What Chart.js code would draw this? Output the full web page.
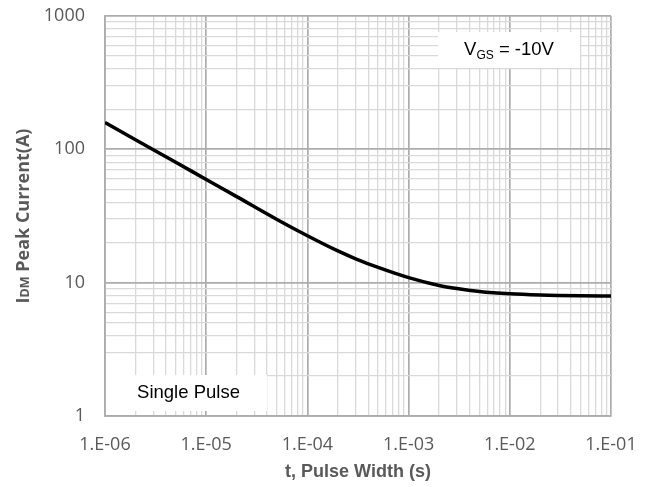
<!DOCTYPE html>
<html>
<head>
<meta charset="utf-8">
<script src="https://cdn.jsdelivr.net/npm/chart.js@4/dist/chart.umd.min.js"></script>
<style>
  html, body { margin: 0; padding: 0; background: #fff; }
  canvas { display: block; }
</style>
</head>
<body>
<canvas id="idmChart" width="651" height="487"></canvas>
<script>
/* Peak drain current vs pulse width, single pulse */
const pulseWidth = [1e-6, 2e-6, 5e-6, 1e-5, 2e-5, 5e-5, 1e-4, 2e-4, 3e-4, 5e-4, 1e-3, 2e-3, 3e-3, 5e-3, 1e-2, 2e-2, 5e-2, 1e-1];
const peakCurrent = [159, 118, 80, 59.4, 44.2, 29.8, 22.5, 17.3, 15.1, 13.0, 10.9, 9.52, 9.03, 8.59, 8.25, 8.08, 7.97, 7.94];

const xDecades = [1e-6, 1e-5, 1e-4, 1e-3, 1e-2, 1e-1];
const xTickLabels = ['1.E-06', '1.E-05', '1.E-04', '1.E-03', '1.E-02', '1.E-01'];
const yDecades = [1, 10, 100, 1000];
const yTickLabels = ['1', '10', '100', '1000'];

const MAJOR_GRID = '#acacac';
const MINOR_GRID = '#d9d9d9';
const TEXT_GRAY = '#595959';

// decade ticks plus the 2..9 minor ticks in between
function withMinor(decades) {
    const out = [];
    decades.forEach((d, i) => {
        out.push({ value: d });
        if (i < decades.length - 1) {
            for (let k = 2; k < 10; k++) out.push({ value: d * k });
        }
    });
    return out;
}

function isDecade(v) {
    const l = Math.log10(v);
    return Math.abs(l - Math.round(l)) < 1e-6;
}

function labelFor(value, decades, labels) {
    const i = decades.findIndex(d => Math.abs(d - value) / d < 1e-6);
    return i >= 0 ? labels[i] : '';
}

const gridColor = ctx => (ctx.tick && isDecade(ctx.tick.value)) ? MAJOR_GRID : MINOR_GRID;
const gridWidth = ctx => (ctx.tick && isDecade(ctx.tick.value)) ? 1.7 : 1.3;

const annotations = {
    id: 'annotations',
    beforeDatasetsDraw(chart) {
        const { ctx, chartArea: a } = chart;
        ctx.save();
        ctx.fillStyle = '#fff';

        // V_GS box, top right
        const vx0 = a.right - 173, vx1 = a.right - 31, vy0 = a.top + 16, vy1 = a.top + 52;
        ctx.fillRect(vx0, vy0, vx1 - vx0, vy1 - vy0);

        // Single Pulse box, bottom left
        const sx0 = a.left + 1, sx1 = a.left + 162, sy0 = a.bottom - 41, sy1 = a.bottom - 5;
        ctx.fillRect(sx0, sy0, sx1 - sx0, sy1 - sy0);

        ctx.fillStyle = '#000';
        ctx.textBaseline = 'alphabetic';
        const big = '18.5px "Liberation Sans", Arial, sans-serif';
        const small = '12px "Liberation Sans", Arial, sans-serif';

        ctx.font = big;
        const wV = ctx.measureText('V').width;
        const wRest = ctx.measureText(' = -10V').width;
        ctx.font = small;
        const wGS = ctx.measureText('GS').width;
        let x = (vx0 + vx1) / 2 - (wV + wGS + wRest) / 2;
        const base = (vy0 + vy1) / 2 + 5;
        ctx.font = big;
        ctx.fillText('V', x, base);
        x += wV;
        ctx.font = small;
        ctx.fillText('GS', x, base + 4);
        x += wGS;
        ctx.font = big;
        ctx.fillText(' = -10V', x, base);

        ctx.textAlign = 'center';
        ctx.fillText('Single Pulse', (sx0 + sx1) / 2 + 2, (sy0 + sy1) / 2 + 5);
        ctx.restore();
    },
    afterDraw(chart) {
        // rotated y title with small "DM"
        const { ctx, chartArea: a } = chart;
        ctx.save();
        ctx.translate(22, (a.top + a.bottom) / 2);
        ctx.rotate(-Math.PI / 2);
        ctx.fillStyle = TEXT_GRAY;
        ctx.textBaseline = 'alphabetic';
        const big = 'bold 18px "Open Sans", sans-serif';
        const small = 'bold 12.5px "Open Sans", sans-serif';
        ctx.font = big;
        const wI = ctx.measureText('I').width;
        const wRest = ctx.measureText(' Peak Current(A)').width;
        ctx.font = small;
        const wDM = ctx.measureText('DM').width;
        let x = -(wI + wDM + wRest) / 2;
        const base = 6.5;
        ctx.font = big;
        ctx.fillText('I', x, base);
        x += wI;
        ctx.font = small;
        ctx.fillText('DM', x, base);
        x += wDM;
        ctx.font = big;
        ctx.fillText(' Peak Current(A)', x, base);
        ctx.restore();
    }
};

new Chart(document.getElementById('idmChart'), {
    type: 'line',
    data: {
        datasets: [{
            data: pulseWidth.map((t, i) => ({ x: t, y: peakCurrent[i] })),
            borderColor: '#000000',
            borderWidth: 3.5,
            pointRadius: 0,
            fill: false,
            cubicInterpolationMode: 'monotone'
        }]
    },
    options: {
        responsive: false,
        animation: false,
        layout: {
            padding: { top: 16, right: 40, left: 0, bottom: 0 }
        },
        plugins: {
            legend: { display: false },
            tooltip: { enabled: false }
        },
        scales: {
            x: {
                type: 'logarithmic',
                min: 1e-6,
                max: 1e-1,
                afterBuildTicks: scale => { scale.ticks = withMinor(xDecades); },
                afterFit: scale => {
                    scale.height = 71;
                    scale.paddingLeft = 0;
                    scale.paddingRight = 0;
                },
                grid: { color: gridColor, lineWidth: gridWidth, drawTicks: false },
                border: { color: MAJOR_GRID, width: 1.7 },
                ticks: {
                    autoSkip: false,
                    maxRotation: 0,
                    padding: 18,
                    color: TEXT_GRAY,
                    font: { family: '"Open Sans", sans-serif', size: 18 },
                    callback: value => labelFor(value, xDecades, xTickLabels)
                },
                title: {
                    display: true,
                    text: 't, Pulse Width (s)',
                    color: TEXT_GRAY,
                    font: { family: '"Liberation Sans", Arial, sans-serif', size: 18, weight: 'bold' },
                    padding: { top: 0, bottom: 4 }
                }
            },
            y: {
                type: 'logarithmic',
                min: 1,
                max: 1000,
                afterBuildTicks: scale => { scale.ticks = withMinor(yDecades); },
                afterFit: scale => {
                    scale.width = 105;
                    scale.paddingTop = 0;
                    scale.paddingBottom = 0;
                },
                grid: { color: gridColor, lineWidth: gridWidth, drawTicks: false },
                border: { color: MAJOR_GRID, width: 1.7 },
                ticks: {
                    autoSkip: false,
                    padding: 20,
                    color: TEXT_GRAY,
                    font: { family: '"Open Sans", sans-serif', size: 18 },
                    callback: value => labelFor(value, yDecades, yTickLabels)
                }
            }
        }
    },
    plugins: [annotations]
});
</script>
</body>
</html>
